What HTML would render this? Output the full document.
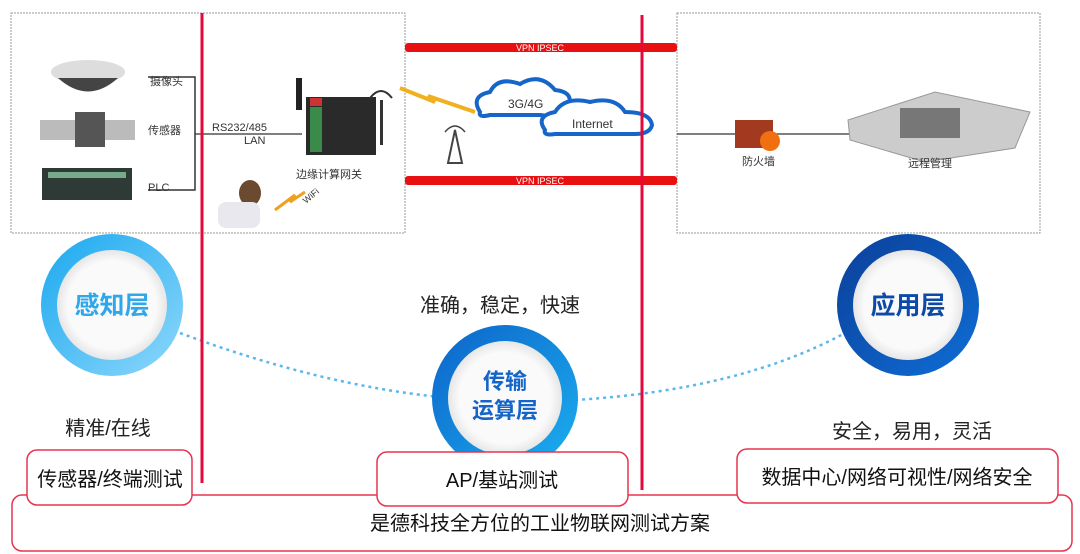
<!DOCTYPE html>
<html><head><meta charset="utf-8"><style>
html,body{margin:0;padding:0;background:#fff;}
svg{display:block;font-family:"Liberation Sans","Noto Sans CJK SC",sans-serif;}
</style></head><body>
<svg width="1080" height="554" viewBox="0 0 1080 554" xmlns="http://www.w3.org/2000/svg">
<defs>
<linearGradient id="g1" x1="0" y1="0" x2="1" y2="1"><stop offset="0" stop-color="#1aa8ef"/><stop offset="1" stop-color="#8ed8fb"/></linearGradient>
<linearGradient id="g2" x1="0" y1="0" x2="1" y2="1"><stop offset="0" stop-color="#0c63c9"/><stop offset="1" stop-color="#1cb0f0"/></linearGradient>
<linearGradient id="g3" x1="0" y1="0" x2="1" y2="1"><stop offset="0" stop-color="#0b3f99"/><stop offset="1" stop-color="#0f6ed6"/></linearGradient>
<radialGradient id="w"><stop offset="0.8" stop-color="#fafafa"/><stop offset="1" stop-color="#e6e6e6"/></radialGradient>
</defs>
<!-- top boxes -->
<rect x="11" y="13" width="394" height="220" fill="#fff" stroke="#999" stroke-dasharray="2,1"/>
<rect x="677" y="13" width="363" height="220" fill="#fff" stroke="#999" stroke-dasharray="2,1"/>
<!-- devices left -->
<ellipse cx="88" cy="72" rx="37" ry="12" fill="#ddd"/>
<path d="M58 78 Q88 105 118 78 Z" fill="#444"/>
<rect x="40" y="120" width="95" height="20" fill="#bbb"/>
<rect x="75" y="112" width="30" height="35" fill="#555"/>
<rect x="42" y="168" width="90" height="32" fill="#2d3a35"/>
<rect x="48" y="172" width="78" height="6" fill="#7a8"/>
<text x="150" y="85" font-size="11" fill="#333">摄像头</text>
<text x="148" y="134" font-size="11" fill="#333">传感器</text>
<text x="148" y="191" font-size="11" fill="#333">PLC</text>
<polyline points="148,77 195,77 195,190 148,190" fill="none" stroke="#333" stroke-width="1.5"/>
<line x1="195" y1="134" x2="302" y2="134" stroke="#333" stroke-width="1.2"/>
<text x="212" y="131" font-size="11" fill="#333">RS232/485</text>
<text x="244" y="144" font-size="11" fill="#333">LAN</text>
<!-- gateway -->
<rect x="296" y="78" width="6" height="32" fill="#222"/>
<rect x="306" y="97" width="70" height="58" fill="#2a2a2a"/>
<rect x="310" y="107" width="12" height="45" fill="#3a8a4a"/>
<rect x="310" y="98" width="12" height="8" fill="#c33"/>
<rect x="380" y="100" width="3" height="45" fill="#333"/>
<path d="M370 98 Q381 84 392 98" fill="none" stroke="#333" stroke-width="2"/>
<text x="296" y="178" font-size="11" fill="#333">边缘计算网关</text>
<!-- person -->
<ellipse cx="250" cy="193" rx="11" ry="13" fill="#6b4a30"/>
<rect x="218" y="202" width="42" height="26" rx="8" fill="#e8e8ee"/>
<path d="M275 210 L295 195 L290 202 L305 192" fill="none" stroke="#f0a020" stroke-width="3"/>
<text x="306" y="204" font-size="9" fill="#333" transform="rotate(-40 306 204)">WiFi</text>
<!-- lightning -->
<path d="M400 88 L435 102 L428 96 L475 112" fill="none" stroke="#f0b020" stroke-width="4"/>
<!-- tower -->
<path d="M448 163 L455 130 L462 163 Z" fill="none" stroke="#444" stroke-width="2"/>
<path d="M445 132 Q455 120 465 132" fill="none" stroke="#444" stroke-width="1.5"/>
<!-- clouds -->
<path d="M480 112 Q470 96 490 92 Q498 76 520 84 Q540 72 555 90 Q575 92 568 108 Q560 118 540 115 L490 115 Q478 118 480 112 Z" fill="#fff" stroke="#1566c8" stroke-width="4"/>
<text x="508" y="108" font-size="12" fill="#333">3G/4G</text>
<path d="M545 130 Q535 116 555 112 Q565 96 590 102 Q615 96 625 112 Q650 112 652 125 Q650 134 635 134 L555 134 Q543 136 545 130 Z" fill="#fff" stroke="#1566c8" stroke-width="4"/>
<text x="572" y="128" font-size="12" fill="#333">Internet</text>
<!-- VPN bars -->
<rect x="405" y="43" width="272" height="9" rx="3" fill="#e81010"/>
<text x="540" y="51" font-size="9" fill="#fff" text-anchor="middle">VPN    IPSEC</text>
<rect x="405" y="176" width="272" height="9" rx="3" fill="#e81010"/>
<text x="540" y="184" font-size="9" fill="#fff" text-anchor="middle">VPN    IPSEC</text>
<!-- right -->
<line x1="677" y1="134" x2="865" y2="134" stroke="#333" stroke-width="1.2"/>
<rect x="735" y="120" width="38" height="28" fill="#a33a20"/>
<circle cx="770" cy="141" r="10" fill="#f07010"/>
<text x="742" y="165" font-size="11" fill="#333">防火墙</text>
<path d="M848 120 L935 92 L1030 112 L1015 148 L925 162 L850 140 Z" fill="#ccc" stroke="#999"/>
<rect x="900" y="108" width="60" height="30" fill="#777"/>
<text x="908" y="167" font-size="11" fill="#333">远程管理</text>
<!-- dashed curve -->
<path d="M180 333 Q320 385 440 397" fill="none" stroke="#5bb6ee" stroke-width="2.5" stroke-dasharray="3,4"/>
<path d="M575 400 Q740 390 845 333" fill="none" stroke="#5bb6ee" stroke-width="2.5" stroke-dasharray="3,4"/>
<!-- red lines -->
<line x1="202" y1="13" x2="202" y2="483" stroke="#e5083b" stroke-width="3"/>
<line x1="642" y1="15" x2="642" y2="490" stroke="#e5083b" stroke-width="3"/>
<!-- circles -->
<circle cx="112" cy="305" r="71" fill="url(#g1)"/>
<circle cx="112" cy="305" r="55" fill="url(#w)"/>
<text x="112" y="314" font-size="25" font-weight="bold" fill="#2ea8ea" text-anchor="middle">感知层</text>
<circle cx="505" cy="398" r="73" fill="url(#g2)"/>
<circle cx="505" cy="398" r="57" fill="url(#w)"/>
<text x="505" y="389" font-size="22" font-weight="bold" fill="#1565c8" text-anchor="middle">传输</text>
<text x="505" y="418" font-size="22" font-weight="bold" fill="#1565c8" text-anchor="middle">运算层</text>
<circle cx="908" cy="305" r="71" fill="url(#g3)"/>
<circle cx="908" cy="305" r="55" fill="url(#w)"/>
<text x="908" y="314" font-size="25" font-weight="bold" fill="#0d4aa8" text-anchor="middle">应用层</text>
<!-- captions -->
<text x="500" y="312" font-size="20" fill="#222" text-anchor="middle">准确，稳定，快速</text>
<text x="108" y="435" font-size="20" fill="#222" text-anchor="middle">精准/在线</text>
<text x="912" y="438" font-size="20" fill="#222" text-anchor="middle">安全，易用，灵活</text>
<!-- bottom boxes -->
<rect x="12" y="495" width="1060" height="56" rx="10" fill="#fff" stroke="#e8334f" stroke-width="1.5"/>
<text x="540" y="530" font-size="20" fill="#111" text-anchor="middle">是德科技全方位的工业物联网测试方案</text>
<rect x="27" y="450" width="165" height="55" rx="10" fill="#fff" stroke="#e8334f" stroke-width="1.5"/>
<text x="110" y="486" font-size="20" fill="#111" text-anchor="middle">传感器/终端测试</text>
<rect x="377" y="452" width="251" height="54" rx="10" fill="#fff" stroke="#e8334f" stroke-width="1.5"/>
<text x="502" y="487" font-size="20" fill="#111" text-anchor="middle">AP/基站测试</text>
<rect x="737" y="449" width="321" height="54" rx="10" fill="#fff" stroke="#e8334f" stroke-width="1.5"/>
<text x="897" y="484" font-size="20" fill="#111" text-anchor="middle">数据中心/网络可视性/网络安全</text>
</svg>
</body></html>
